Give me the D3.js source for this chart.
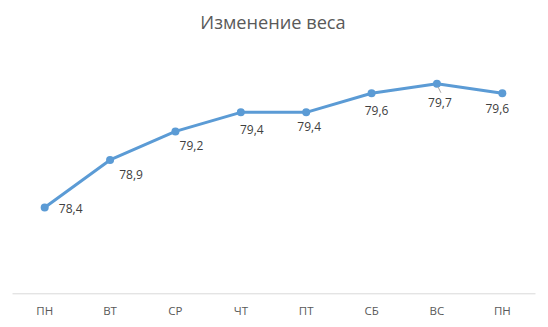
<!DOCTYPE html>
<html>
<head>
<meta charset="utf-8">
<script src="https://cdn.jsdelivr.net/npm/d3@7"></script>
<style>
  body { margin: 0; background: #fff; }
  text { font-family: 'Open Sans', 'Noto Sans', sans-serif; }
</style>
</head>
<body>
<div id="chart"></div>
<script>
var days = ['ПН', 'ВТ', 'СР', 'ЧТ', 'ПТ', 'СБ', 'ВС', 'ПН']
var weights = [78.4, 78.9, 79.2, 79.4, 79.4, 79.6, 79.7, 79.6]
var yDomain = [77.5, 80]
var title = 'Изменение веса'

var width = 548, height = 327

var svg = d3.select('#chart').append('svg')
  .attr('width', width).attr('height', height)

var data = weights.map((v, i) => ({i, day: days[i], v}))

var x = d3.scaleBand().domain(d3.range(days.length)).range([12, 535])
var y = d3.scaleLinear().domain(yDomain).range([293.3, 55.2])

var cx = i => x(i) + x.bandwidth()/2

// label nudges, picked by eye from the reference
var nudge = [[26, 5], [21, 19], [16, 19], [11, 22], [3, 19], [5, 22], [3, 23], [-5, 20]]

svg.append('text')
  .text(title)
  .attr('x', 273).attr('y', 29)
  .attr('text-anchor', 'middle')
  .attr('font-size', 18.2)
  .attr('fill', '#595959')

var xAxis = svg.append('g')
  .attr('transform', `translate(0,${y(yDomain[0])})`)
  .call(d3.axisBottom(x).tickSize(0).tickPadding(14).tickFormat(i => days[i]))

xAxis.select('.domain').attr('stroke', '#d9d9d9').attr('stroke-width', 1)
xAxis.selectAll('text')
  .attr('font-size', 11.5)
  .attr('fill', '#595959')
  .attr('font-family', "'Open Sans', sans-serif")

svg.append('path')
  .datum(data)
  .attr('d', d3.line().x(d => cx(d.i)).y(d => y(d.v)))
  .attr('fill', 'none')
  .attr('stroke', '#5b9bd5')
  .attr('stroke-width', 3)
  .attr('stroke-linejoin', 'round')
  .attr('stroke-linecap', 'round')

svg.selectAll('circle.pt')
  .data(data).join('circle')
  .attr('class', 'pt')
  .attr('cx', d => cx(d.i)).attr('cy', d => y(d.v))
  .attr('r', 4)
  .attr('fill', '#5b9bd5')

// leader line for the label that moved away from its point
svg.append('line')
  .attr('x1', cx(6) + 1).attr('y1', y(weights[6]) + 3)
  .attr('x2', cx(6) + 4).attr('y2', y(weights[6]) + 9)
  .attr('stroke', '#a6a6a6').attr('stroke-width', 1)

svg.selectAll('text.lbl')
  .data(data).join('text')
  .attr('class', 'lbl')
  .text(d => d3.format('.1f')(d.v).replace('.', ','))
  .attr('x', d => cx(d.i) + nudge[d.i][0])
  .attr('y', d => y(d.v) + nudge[d.i][1])
  .attr('text-anchor', 'middle')
  .attr('font-size', 12)
  .attr('fill', '#404040')
</script>
</body>
</html>
